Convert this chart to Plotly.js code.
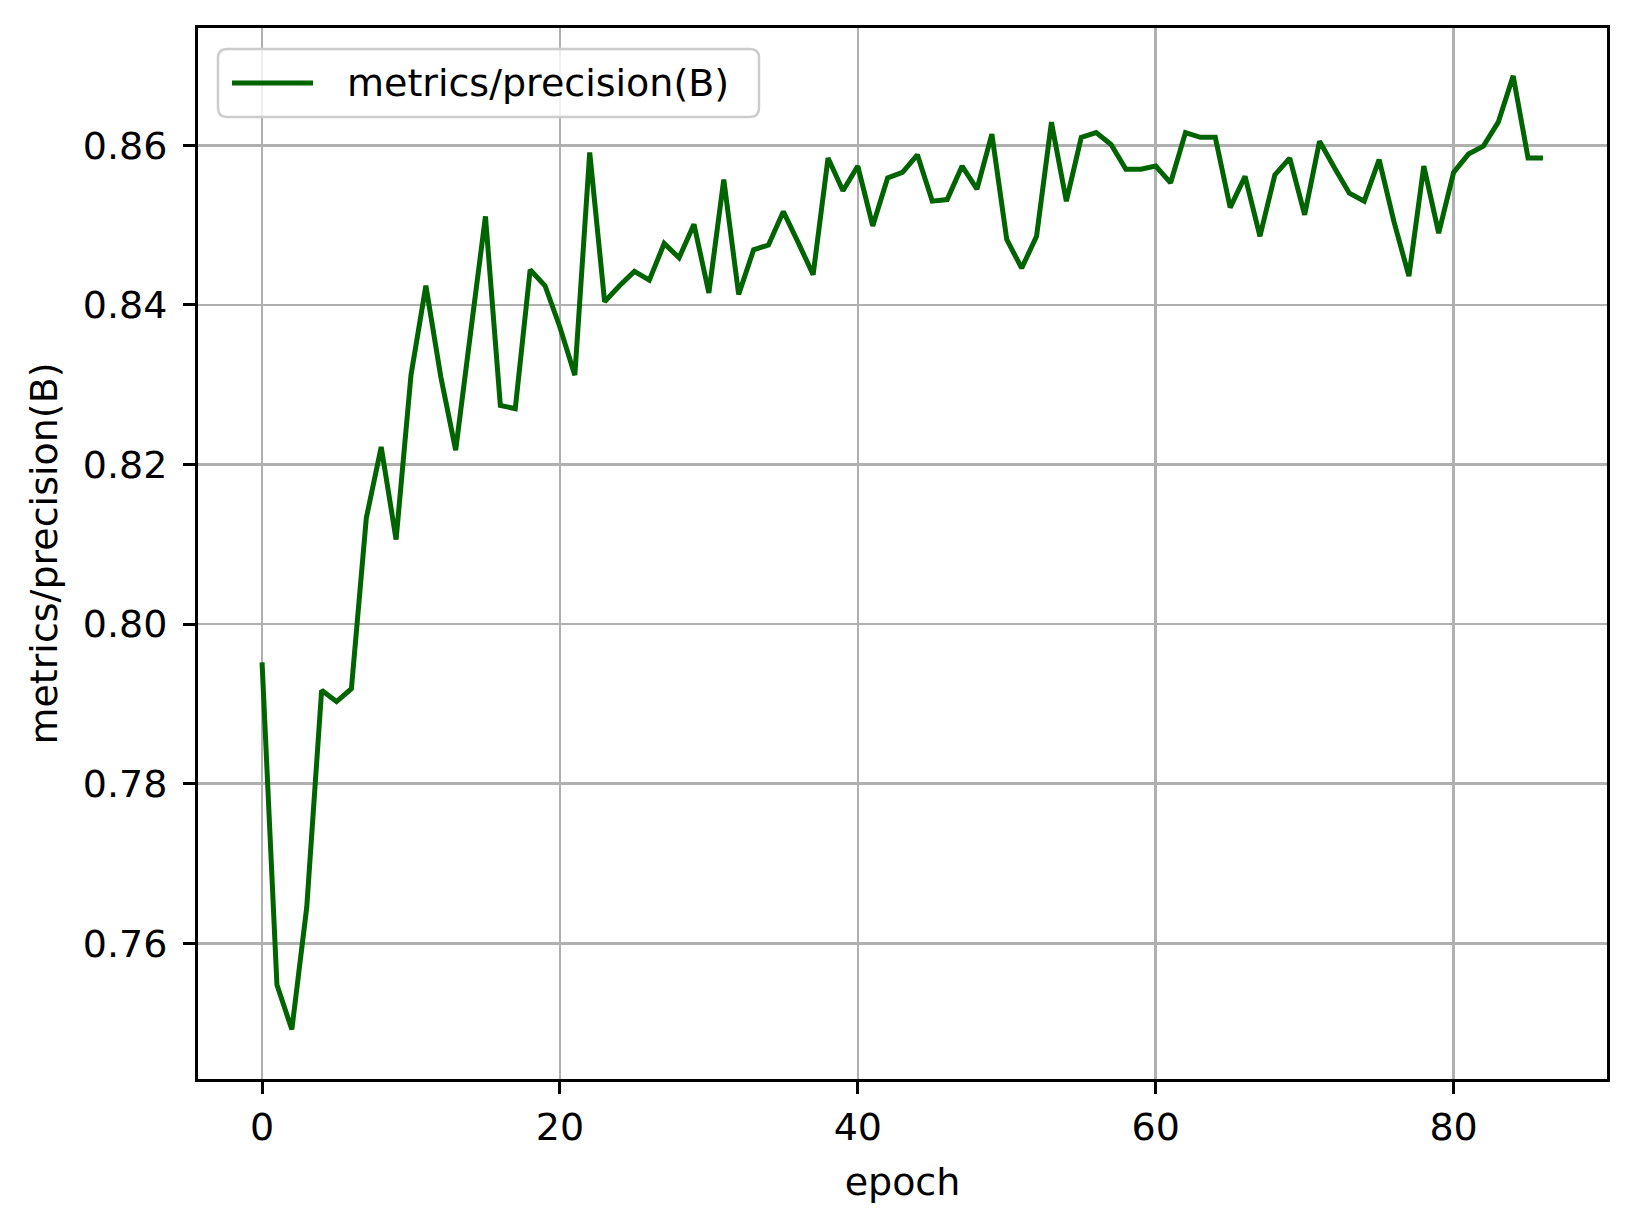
<!DOCTYPE html>
<html>
<head>
<meta charset="utf-8">
<script src="https://cdn.plot.ly/plotly-3.0.1.min.js"></script>
<style>html,body{margin:0;padding:0;background:#fff;}#chart{width:1637px;height:1220px;}</style>
</head>
<body>
<div id="chart"></div>
<script>
const seriesName = "metrics/precision(B)";
const xTitle = "epoch";
const yTitle = "metrics/precision(B)";
const precision = [
  0.7952, 0.7548, 0.7492, 0.7645, 0.7917, 0.7903, 0.7919, 0.8133, 0.8222, 0.8106,
  0.8312, 0.8424, 0.8310, 0.8218, 0.8365, 0.8511, 0.8274, 0.8270, 0.8444, 0.8424,
  0.8372, 0.8312, 0.8591, 0.8404, 0.8424, 0.8442, 0.8431, 0.8477, 0.8459, 0.8501,
  0.8415, 0.8557, 0.8413, 0.8469, 0.8475, 0.8517, 0.8478, 0.8438, 0.8584, 0.8543,
  0.8574, 0.8499, 0.8559, 0.8566, 0.8588, 0.8530, 0.8532, 0.8574, 0.8545, 0.8614,
  0.8482, 0.8446, 0.8486, 0.8629, 0.8530, 0.8610, 0.8616, 0.8601, 0.8570, 0.8570,
  0.8574, 0.8553, 0.8616, 0.8610, 0.8610, 0.8522, 0.8561, 0.8486, 0.8563, 0.8584,
  0.8513, 0.8605, 0.8572, 0.8540, 0.8530, 0.8582, 0.8504, 0.8436, 0.8574, 0.8490,
  0.8566, 0.8589, 0.8599, 0.8629, 0.8687, 0.8584, 0.8584
];
const epochs = precision.map((_, i) => i);
const xTicks = [0, 20, 40, 60, 80];
const yTicks = [0.76, 0.78, 0.80, 0.82, 0.84, 0.86];

const W = 1637, H = 1220;
const M = {l: 198, r: 30, t: 28, b: 141};
const lineColor = "#006400";
const font = {family: "DejaVu Sans, sans-serif", size: 38, color: "#000"};

// pixel -> paper helpers for the legend decoration
const plotW = W - M.l - M.r, plotH = H - M.t - M.b;
const px = x => (x - M.l) / plotW;
const py = y => 1 - (y - M.t) / plotH;

function roundRectPath(x0, y0, x1, y1, r) {
  const P = (x, y) => px(x).toFixed(5) + "," + py(y).toFixed(5);
  return "M" + P(x0 + r, y0) + " L" + P(x1 - r, y0) + " Q" + P(x1, y0) + " " + P(x1, y0 + r) +
         " L" + P(x1, y1 - r) + " Q" + P(x1, y1) + " " + P(x1 - r, y1) +
         " L" + P(x0 + r, y1) + " Q" + P(x0, y1) + " " + P(x0, y1 - r) +
         " L" + P(x0, y0 + r) + " Q" + P(x0, y0) + " " + P(x0 + r, y0) + " Z";
}

const legBox = {x0: 218, y0: 49, x1: 759, y1: 117};
const legMidY = 83;

const trace = {
  x: epochs, y: precision, type: "scatter", mode: "lines",
  name: seriesName, showlegend: false,
  line: {color: lineColor, width: 5}
};

const axisCommon = {
  showline: true, mirror: true, linecolor: "#000", linewidth: 3,
  ticks: "outside", ticklen: 12, tickwidth: 3, tickcolor: "#000",
  showgrid: true, gridcolor: "#b0b0b0", gridwidth: 2.5,
  zeroline: false, tickfont: font
};

const layout = {
  width: W, height: H,
  paper_bgcolor: "#fff", plot_bgcolor: "#fff",
  margin: M,
  font: font,
  showlegend: false,
  shapes: [
    {type: "path", xref: "paper", yref: "paper", layer: "above",
     path: roundRectPath(legBox.x0, legBox.y0, legBox.x1, legBox.y1, 9),
     fillcolor: "rgba(255,255,255,0.8)", line: {color: "#cccccc", width: 2.5}},
    {type: "line", xref: "paper", yref: "paper", layer: "above",
     x0: px(232), x1: px(313), y0: py(legMidY), y1: py(legMidY),
     line: {color: lineColor, width: 5}}
  ],
  annotations: [
    {xref: "paper", yref: "paper", x: px(345), y: py(legMidY),
     xanchor: "left", yanchor: "middle", showarrow: false,
     text: seriesName, font: font}
  ],
  xaxis: Object.assign({}, axisCommon, {
    range: [-4.3, 90.3], tickvals: xTicks,
    ticktext: xTicks.map(String),
    title: {text: xTitle, font: font, standoff: 21}
  }),
  yaxis: Object.assign({}, axisCommon, {
    range: [0.743, 0.8747], tickvals: yTicks,
    ticktext: yTicks.map(v => v.toFixed(2)),
    ticklabelstandoff: 8,
    title: {text: yTitle, font: font, standoff: 14}
  })
};

Plotly.newPlot("chart", [trace], layout, {displayModeBar: false, staticPlot: true});
</script>
</body>
</html>
